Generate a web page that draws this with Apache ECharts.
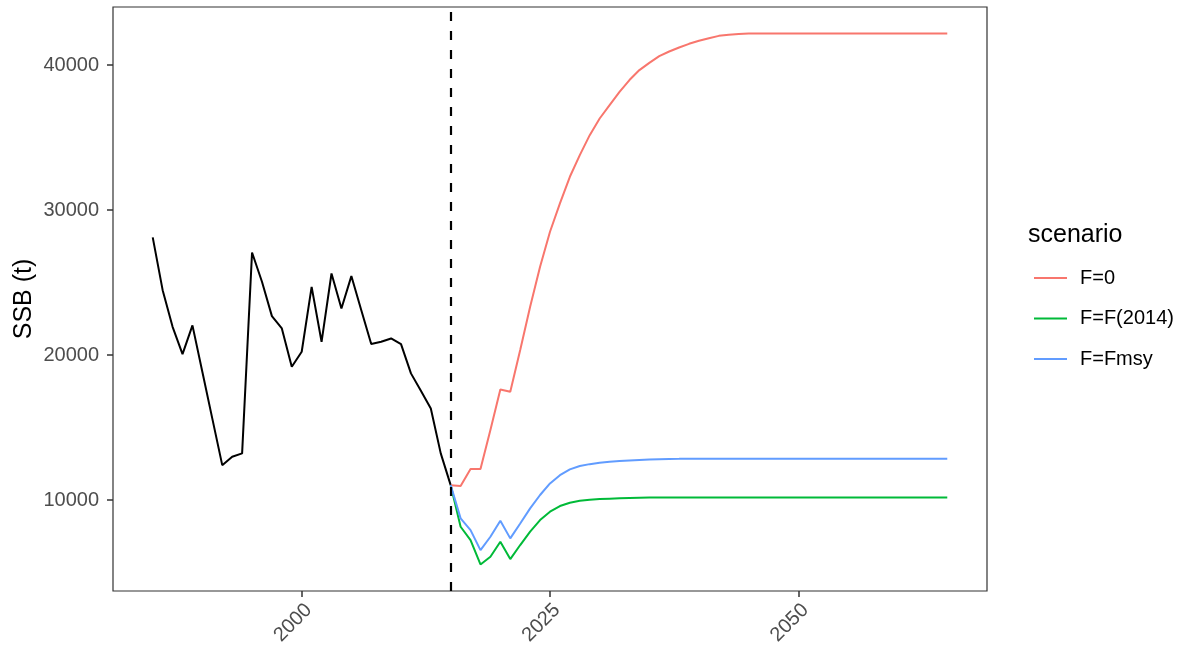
<!DOCTYPE html>
<html>
<head>
<meta charset="utf-8">
<title>SSB projections</title>
<script src="https://cdn.jsdelivr.net/npm/echarts@6/dist/echarts.min.js"></script>
<style>
  html, body { margin: 0; padding: 0; background: #fff; }
  #chart { width: 1189px; height: 651px; }
</style>
</head>
<body>
<div id="chart"></div>
<script>
// historical SSB, 1985-2015
const histYears = [1985, 1986, 1987, 1988, 1989, 1990, 1991, 1992, 1993, 1994,
  1995, 1996, 1997, 1998, 1999, 2000, 2001, 2002, 2003, 2004,
  2005, 2006, 2007, 2008, 2009, 2010, 2011, 2012, 2013, 2014, 2015]
const histSSB = [28120, 24480, 21950, 20070, 22050, 18830, 15620, 12410, 12990, 13220,
  27080, 25060, 22690, 21840, 19200, 20230, 24710, 20920, 25630, 23220,
  25450, 23100, 20760, 20920, 21150, 20760, 18740, 17540, 16320, 13220, 11030]

// projections, 2015-2065
const projYears = [2015, 2016, 2017, 2018, 2019, 2020, 2021, 2022, 2023, 2024,
  2025, 2026, 2027, 2028, 2029, 2030, 2031, 2032, 2033, 2034,
  2035, 2036, 2037, 2038, 2039, 2040, 2041, 2042, 2043, 2044,
  2045, 2046, 2047, 2048, 2049, 2050, 2051, 2052, 2053, 2054,
  2055, 2056, 2057, 2058, 2059, 2060, 2061, 2062, 2063, 2064, 2065]
const ssbF0 = [11030, 10970, 12140, 12140, 14830, 17630, 17470, 20350, 23330, 26090,
  28510, 30460, 32300, 33790, 35170, 36320, 37240, 38160, 38970, 39660,
  40160, 40620, 40940, 41220, 41470, 41680, 41860, 42020, 42100, 42150,
  42180, 42180, 42180, 42180, 42180, 42180, 42180, 42180, 42180, 42180,
  42180, 42180, 42180, 42180, 42180, 42180, 42180, 42180, 42180, 42180, 42180]
const ssbF2014 = [11030, 8160, 7240, 5560, 6090, 7130, 5930, 6900, 7820, 8620,
  9200, 9590, 9820, 9950, 10020, 10070, 10100, 10130, 10150, 10165,
  10180, 10180, 10180, 10180, 10180, 10180, 10180, 10180, 10180, 10180,
  10180, 10180, 10180, 10180, 10180, 10180, 10180, 10180, 10180, 10180,
  10180, 10180, 10180, 10180, 10180, 10180, 10180, 10180, 10180, 10180, 10180]
const ssbFmsy = [11030, 8740, 7930, 6550, 7470, 8580, 7360, 8390, 9430, 10350,
  11150, 11720, 12120, 12350, 12480, 12580, 12640, 12690, 12730, 12770,
  12800, 12820, 12835, 12845, 12860, 12860, 12860, 12860, 12860, 12860,
  12860, 12860, 12860, 12860, 12860, 12860, 12860, 12860, 12860, 12860,
  12860, 12860, 12860, 12860, 12860, 12860, 12860, 12860, 12860, 12860, 12860]

const scenarioNames = ['F=0', 'F=F(2014)', 'F=Fmsy']
const scenarioColors = ['#F8766D', '#00BA38', '#619CFF']
const xTicks = [2000, 2025, 2050]
const yTicks = [10000, 20000, 30000, 40000]
const lastHistYear = 2015

const zip = (xs, ys) => xs.map((x, i) => [x, ys[i]])
const plain = v => String(v)

const chart = echarts.init(document.getElementById('chart'))

const projSeries = [ssbF0, ssbF2014, ssbFmsy].map((vals, i) => ({
  name: scenarioNames[i],
  type: 'line',
  data: zip(projYears, vals),
  symbol: 'none',
  lineStyle: { color: scenarioColors[i], width: 2 },
  itemStyle: { color: scenarioColors[i] },
  z: 3
}))

chart.setOption({
  animation: false,
  textStyle: { fontFamily: 'Liberation Sans, Arial, sans-serif' },
  title: {
    text: 'scenario',
    left: 1023,
    top: 218,
    textStyle: { fontSize: 25, fontWeight: 'normal', color: '#000' }
  },
  legend: {
    data: scenarioNames,
    orient: 'vertical',
    left: 1029,
    top: 263,
    icon: 'rect',
    itemWidth: 33,
    itemHeight: 2,
    itemGap: 20.5,
    textStyle: { fontSize: 20, color: '#000', padding: [0, 0, 0, 8] }
  },
  grid: {
    left: 113,
    right: 202,
    top: 7,
    bottom: 60,
    show: true,
    borderColor: '#333',
    borderWidth: 1.2,
    containLabel: false,
    outerBoundsMode: 'none'
  },
  xAxis: {
    type: 'value',
    min: 1981,
    max: 2069,
    splitLine: { show: false },
    axisLine: { show: false },
    axisTick: { show: true, length: 6, lineStyle: { color: '#333', width: 1.5 }, customValues: xTicks },
    axisLabel: {
      rotate: 45, verticalAlign: 'top', fontSize: 20, color: '#4D4D4D', margin: 9,
      formatter: plain, customValues: xTicks
    }
  },
  yAxis: {
    type: 'value',
    min: 3730,
    max: 44010,
    name: 'SSB (t)',
    nameLocation: 'middle',
    nameGap: 76,
    nameMoveOverlap: false,
    nameTextStyle: { fontSize: 25, color: '#000' },
    splitLine: { show: false },
    axisLine: { show: false },
    axisTick: { show: true, length: 6, lineStyle: { color: '#333', width: 1.5 }, customValues: yTicks },
    axisLabel: { fontSize: 20, color: '#4D4D4D', margin: 14, formatter: plain, customValues: yTicks }
  },
  series: [
    {
      name: 'history',
      type: 'line',
      data: zip(histYears, histSSB),
      symbol: 'none',
      lineStyle: { color: '#000', width: 2 },
      z: 2,
      markLine: {
        silent: true,
        symbol: 'none',
        label: { show: false },
        lineStyle: { color: '#000', type: [9, 10], width: 2.2 },
        data: [{ xAxis: lastHistYear }]
      }
    },
    ...projSeries
  ]
})
</script>
</body>
</html>
